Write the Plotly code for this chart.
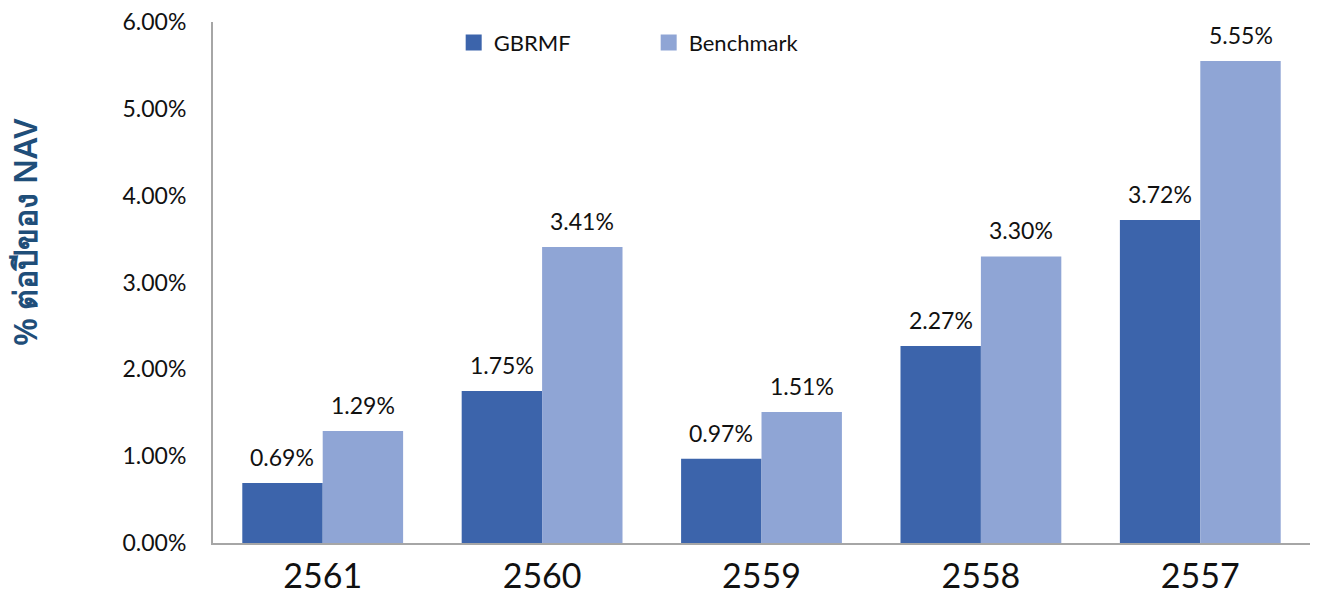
import plotly.graph_objects as go

years = ["2561", "2560", "2559", "2558", "2557"]
gbrmf = [0.0069, 0.0175, 0.0097, 0.0227, 0.0372]
benchmark = [0.0129, 0.0341, 0.0151, 0.0330, 0.0555]
y_ticks = [0, 0.01, 0.02, 0.03, 0.04, 0.05, 0.06]

C1 = "#3C64AB"
C2 = "#8FA5D5"
FONT = "Lato"

fig = go.Figure()
fig.add_trace(go.Bar(name="GBRMF", x=years, y=gbrmf, marker_color=C1,
                     marker_line_width=0, showlegend=False))
fig.add_trace(go.Bar(name="Benchmark", x=years, y=benchmark, marker_color=C2,
                     marker_line_width=0, showlegend=False))
# legend-only square markers
for nm, c in (("GBRMF", C1), ("Benchmark", C2)):
    fig.add_trace(go.Scatter(name=nm, x=[None], y=[None], mode="markers",
                             marker=dict(symbol="square", size=16, color=c)))

W, H = 1310, 584
ML, MR, MT, MB = 205, 8, 14, 49
bargap = 0.267
plot_w = W - ML - MR
cat_w = plot_w / len(years)
bar_w = cat_w * (1 - bargap) / 2
anns = []
for series, sign in ((gbrmf, -1), (benchmark, 1)):
    for i, v in enumerate(series):
        anns.append(dict(x=i, y=v, xref="x", yref="y", text=f"{v*100:.2f}%",
                         showarrow=False, xshift=sign * bar_w / 2, yshift=26,
                         yanchor="middle",
                         font=dict(family=FONT, size=23, color="#111111")))
anns.append(dict(x=-0.1714, y=0.597, xref="paper", yref="paper",
                 text="% ต่อปีของ NAV", textangle=-90, showarrow=False,
                 xanchor="center", yanchor="middle",
                 font=dict(family="Noto Sans", size=32, weight=600, color="#1F4E79")))

fig.update_layout(
    width=W, height=H,
    margin=dict(l=ML, r=MR, t=MT, b=MB),
    paper_bgcolor="white", plot_bgcolor="white",
    barmode="group", bargap=bargap, bargroupgap=0,
    font=dict(family=FONT, color="#111111"),
    annotations=anns,
    showlegend=True,
    legend=dict(orientation="h", x=0.2194, y=1.0005, xanchor="left", yanchor="top",
                font=dict(family=FONT, size=22, color="#111111"),
                entrywidth=150, entrywidthmode="pixels",
                bgcolor="rgba(0,0,0,0)"),
    xaxis=dict(type="category", range=[-0.5, len(years) - 0.5], autorange=False,
               automargin=False, ticklabeloverflow="allow",
               showline=True, linecolor="#A6A6A6", linewidth=2, ticks="",
               tickfont=dict(family=FONT, size=34, color="#111111"),
               ticklabelstandoff=2),
    yaxis=dict(range=[0, 0.06], tickvals=y_ticks, tickformat=".2%",
               automargin=False, ticklabeloverflow="allow",
               showline=True, linecolor="#A6A6A6", linewidth=2, showgrid=False,
               zeroline=False, ticks="",
               tickfont=dict(family=FONT, size=23, color="#111111"),
               ticklabelstandoff=20),
)

fig.write_html("out.html")
